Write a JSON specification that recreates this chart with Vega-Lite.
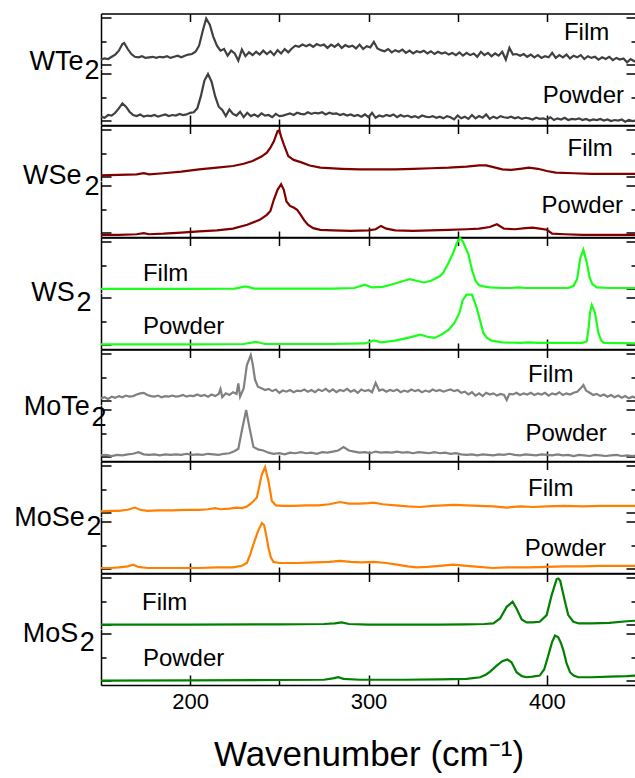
{
"$schema": "https://vega.github.io/schema/vega-lite/v6.json",
"padding": {"left": 13, "top": 12.5, "right": 0, "bottom": 0},
"background": "white",
"spacing": 0,
"bounds": "flush",
"config": {"view": {"stroke": null}, "axis": {"grid": false, "domainColor": "#000", "domainWidth": 1.5, "tickColor": "#000", "tickWidth": 1.5, "titleFont": "Liberation Sans", "labelFont": "Liberation Sans", "titleFontWeight": "normal", "titleColor": "#000", "labelColor": "#000"}},
"datasets": {
"labels": [
{"m":"WTe2","s":"Film","x":435,"y":0.64},{"m":"WTe2","s":"Powder","x":443.3,"y":0.53},
{"m":"WSe2","s":"Film","x":437,"y":0.57},{"m":"WSe2","s":"Powder","x":442.7,"y":0.56},
{"m":"WS2","s":"Film","x":173.5,"y":0.34},{"m":"WS2","s":"Powder","x":173.5,"y":0.40},
{"m":"MoTe2","s":"Film","x":414.9,"y":0.54},{"m":"MoTe2","s":"Powder","x":433.6,"y":0.49},
{"m":"MoSe2","s":"Film","x":414.9,"y":0.51},{"m":"MoSe2","s":"Powder","x":433.2,"y":0.43},
{"m":"MoS2","s":"Film","x":173,"y":0.46},{"m":"MoS2","s":"Powder","x":173.5,"y":0.46}],
"WTe2_Film": [{"x":150,"y":0.17},{"x":152,"y":0.19},{"x":154,"y":0.18},{"x":156,"y":0.22},{"x":158,"y":0.26},{"x":160,"y":0.33},{"x":162,"y":0.45},{"x":163,"y":0.47},{"x":165,"y":0.36},{"x":167,"y":0.27},{"x":169,"y":0.22},{"x":171,"y":0.21},{"x":173,"y":0.23},{"x":175,"y":0.20},{"x":177,"y":0.21},{"x":179,"y":0.22},{"x":181,"y":0.20},{"x":183,"y":0.22},{"x":185,"y":0.21},{"x":187,"y":0.23},{"x":189,"y":0.20},{"x":191,"y":0.22},{"x":193,"y":0.24},{"x":195,"y":0.21},{"x":197,"y":0.24},{"x":199,"y":0.26},{"x":201,"y":0.27},{"x":203,"y":0.31},{"x":205,"y":0.42},{"x":207,"y":0.68},{"x":209,"y":0.91},{"x":211,"y":0.80},{"x":213,"y":0.58},{"x":215,"y":0.42},{"x":217,"y":0.33},{"x":219,"y":0.36},{"x":221,"y":0.24},{"x":223,"y":0.33},{"x":225,"y":0.28},{"x":227,"y":0.15},{"x":229,"y":0.35},{"x":231,"y":0.23},{"x":233,"y":0.30},{"x":235,"y":0.25},{"x":237,"y":0.31},{"x":239,"y":0.26},{"x":241,"y":0.33},{"x":243,"y":0.27},{"x":245,"y":0.32},{"x":247,"y":0.25},{"x":249,"y":0.34},{"x":251,"y":0.28},{"x":253,"y":0.36},{"x":255,"y":0.30},{"x":257,"y":0.37},{"x":259,"y":0.42},{"x":261,"y":0.40},{"x":263,"y":0.44},{"x":265,"y":0.41},{"x":267,"y":0.44},{"x":269,"y":0.40},{"x":271,"y":0.45},{"x":273,"y":0.42},{"x":275,"y":0.44},{"x":277,"y":0.38},{"x":279,"y":0.44},{"x":281,"y":0.40},{"x":283,"y":0.45},{"x":285,"y":0.38},{"x":287,"y":0.43},{"x":289,"y":0.40},{"x":291,"y":0.42},{"x":293,"y":0.37},{"x":295,"y":0.44},{"x":297,"y":0.36},{"x":299,"y":0.41},{"x":301,"y":0.39},{"x":303,"y":0.49},{"x":305,"y":0.37},{"x":307,"y":0.34},{"x":309,"y":0.32},{"x":311,"y":0.36},{"x":313,"y":0.30},{"x":315,"y":0.34},{"x":317,"y":0.31},{"x":319,"y":0.35},{"x":321,"y":0.29},{"x":323,"y":0.33},{"x":325,"y":0.28},{"x":327,"y":0.32},{"x":329,"y":0.30},{"x":331,"y":0.33},{"x":333,"y":0.28},{"x":335,"y":0.32},{"x":337,"y":0.27},{"x":339,"y":0.31},{"x":341,"y":0.28},{"x":343,"y":0.30},{"x":345,"y":0.26},{"x":347,"y":0.29},{"x":349,"y":0.25},{"x":351,"y":0.30},{"x":353,"y":0.24},{"x":355,"y":0.29},{"x":357,"y":0.25},{"x":359,"y":0.28},{"x":361,"y":0.22},{"x":363,"y":0.31},{"x":365,"y":0.25},{"x":367,"y":0.29},{"x":369,"y":0.23},{"x":371,"y":0.28},{"x":373,"y":0.24},{"x":375,"y":0.31},{"x":377,"y":0.17},{"x":379,"y":0.38},{"x":381,"y":0.26},{"x":383,"y":0.27},{"x":385,"y":0.24},{"x":387,"y":0.27},{"x":389,"y":0.22},{"x":391,"y":0.26},{"x":393,"y":0.21},{"x":395,"y":0.25},{"x":397,"y":0.20},{"x":399,"y":0.23},{"x":401,"y":0.21},{"x":403,"y":0.29},{"x":405,"y":0.20},{"x":407,"y":0.25},{"x":409,"y":0.21},{"x":411,"y":0.26},{"x":413,"y":0.19},{"x":415,"y":0.24},{"x":417,"y":0.21},{"x":419,"y":0.25},{"x":421,"y":0.18},{"x":423,"y":0.23},{"x":425,"y":0.20},{"x":427,"y":0.22},{"x":429,"y":0.17},{"x":431,"y":0.21},{"x":433,"y":0.18},{"x":435,"y":0.22},{"x":437,"y":0.16},{"x":439,"y":0.20},{"x":441,"y":0.17},{"x":443,"y":0.19},{"x":445,"y":0.12},{"x":447,"y":0.18},{"x":449,"y":0.14},{"x":450,"y":0.15}],
"WTe2_Powder": [{"x":150,"y":0.15},{"x":152,"y":0.13},{"x":154,"y":0.18},{"x":156,"y":0.17},{"x":158,"y":0.22},{"x":160,"y":0.30},{"x":162,"y":0.39},{"x":164,"y":0.33},{"x":166,"y":0.24},{"x":168,"y":0.18},{"x":170,"y":0.16},{"x":172,"y":0.19},{"x":174,"y":0.15},{"x":176,"y":0.17},{"x":178,"y":0.16},{"x":180,"y":0.18},{"x":182,"y":0.15},{"x":184,"y":0.17},{"x":186,"y":0.19},{"x":188,"y":0.16},{"x":190,"y":0.18},{"x":192,"y":0.17},{"x":194,"y":0.20},{"x":196,"y":0.18},{"x":198,"y":0.19},{"x":200,"y":0.22},{"x":202,"y":0.23},{"x":204,"y":0.30},{"x":206,"y":0.52},{"x":208,"y":0.80},{"x":210,"y":0.92},{"x":212,"y":0.78},{"x":214,"y":0.52},{"x":216,"y":0.33},{"x":218,"y":0.27},{"x":220,"y":0.16},{"x":222,"y":0.28},{"x":224,"y":0.20},{"x":226,"y":0.17},{"x":228,"y":0.24},{"x":230,"y":0.14},{"x":232,"y":0.22},{"x":234,"y":0.16},{"x":236,"y":0.19},{"x":238,"y":0.15},{"x":240,"y":0.21},{"x":242,"y":0.17},{"x":244,"y":0.18},{"x":246,"y":0.14},{"x":248,"y":0.20},{"x":250,"y":0.16},{"x":252,"y":0.17},{"x":254,"y":0.19},{"x":256,"y":0.21},{"x":258,"y":0.18},{"x":260,"y":0.22},{"x":262,"y":0.20},{"x":264,"y":0.19},{"x":266,"y":0.23},{"x":268,"y":0.20},{"x":270,"y":0.22},{"x":272,"y":0.21},{"x":274,"y":0.23},{"x":276,"y":0.19},{"x":278,"y":0.22},{"x":280,"y":0.20},{"x":282,"y":0.21},{"x":284,"y":0.18},{"x":286,"y":0.20},{"x":288,"y":0.17},{"x":290,"y":0.19},{"x":292,"y":0.16},{"x":294,"y":0.18},{"x":296,"y":0.15},{"x":298,"y":0.19},{"x":300,"y":0.14},{"x":302,"y":0.22},{"x":304,"y":0.13},{"x":306,"y":0.17},{"x":308,"y":0.15},{"x":310,"y":0.18},{"x":312,"y":0.16},{"x":314,"y":0.19},{"x":316,"y":0.14},{"x":318,"y":0.18},{"x":320,"y":0.15},{"x":322,"y":0.17},{"x":324,"y":0.14},{"x":326,"y":0.16},{"x":328,"y":0.13},{"x":330,"y":0.17},{"x":332,"y":0.15},{"x":334,"y":0.14},{"x":336,"y":0.16},{"x":338,"y":0.13},{"x":340,"y":0.15},{"x":342,"y":0.12},{"x":344,"y":0.16},{"x":346,"y":0.14},{"x":348,"y":0.10},{"x":350,"y":0.17},{"x":352,"y":0.12},{"x":354,"y":0.15},{"x":356,"y":0.11},{"x":358,"y":0.18},{"x":360,"y":0.12},{"x":362,"y":0.16},{"x":364,"y":0.13},{"x":366,"y":0.19},{"x":368,"y":0.11},{"x":370,"y":0.15},{"x":372,"y":0.12},{"x":374,"y":0.16},{"x":376,"y":0.14},{"x":378,"y":0.13},{"x":380,"y":0.15},{"x":382,"y":0.12},{"x":384,"y":0.14},{"x":386,"y":0.11},{"x":388,"y":0.13},{"x":390,"y":0.12},{"x":392,"y":0.10},{"x":394,"y":0.13},{"x":396,"y":0.11},{"x":398,"y":0.12},{"x":400,"y":0.10},{"x":402,"y":0.14},{"x":404,"y":0.09},{"x":406,"y":0.12},{"x":408,"y":0.10},{"x":410,"y":0.13},{"x":412,"y":0.09},{"x":414,"y":0.11},{"x":416,"y":0.10},{"x":418,"y":0.12},{"x":420,"y":0.09},{"x":422,"y":0.11},{"x":424,"y":0.08},{"x":426,"y":0.10},{"x":428,"y":0.09},{"x":430,"y":0.11},{"x":432,"y":0.08},{"x":434,"y":0.10},{"x":436,"y":0.07},{"x":438,"y":0.09},{"x":440,"y":0.08},{"x":442,"y":0.10},{"x":444,"y":0.06},{"x":446,"y":0.09},{"x":448,"y":0.07},{"x":450,"y":0.08}],
"WSe2_Film": [{"x":150,"y":0.10},{"x":160,"y":0.11},{"x":170,"y":0.12},{"x":174,"y":0.14},{"x":177,"y":0.12},{"x":185,"y":0.14},{"x":195,"y":0.17},{"x":205,"y":0.21},{"x":215,"y":0.24},{"x":224,"y":0.27},{"x":230,"y":0.31},{"x":235,"y":0.36},{"x":240,"y":0.44},{"x":243,"y":0.51},{"x":245,"y":0.60},{"x":247,"y":0.72},{"x":249,"y":0.90},{"x":250,"y":0.91},{"x":251,"y":0.80},{"x":252.5,"y":0.66},{"x":255,"y":0.45},{"x":258,"y":0.38},{"x":262,"y":0.34},{"x":267,"y":0.28},{"x":273,"y":0.24},{"x":285,"y":0.22},{"x":295,"y":0.21},{"x":305,"y":0.21},{"x":315,"y":0.21},{"x":325,"y":0.22},{"x":335,"y":0.23},{"x":345,"y":0.24},{"x":355,"y":0.26},{"x":362,"y":0.28},{"x":366,"y":0.28},{"x":370,"y":0.25},{"x":375,"y":0.21},{"x":380,"y":0.20},{"x":385,"y":0.22},{"x":390,"y":0.24},{"x":395,"y":0.22},{"x":400,"y":0.18},{"x":405,"y":0.15},{"x":415,"y":0.14},{"x":425,"y":0.13},{"x":435,"y":0.13},{"x":450,"y":0.13}],
"WSe2_Powder": [{"x":150,"y":0.04},{"x":160,"y":0.04},{"x":170,"y":0.05},{"x":174,"y":0.07},{"x":177,"y":0.05},{"x":185,"y":0.06},{"x":195,"y":0.08},{"x":205,"y":0.10},{"x":215,"y":0.12},{"x":224,"y":0.15},{"x":232,"y":0.22},{"x":239,"y":0.31},{"x":243,"y":0.40},{"x":245,"y":0.47},{"x":247,"y":0.68},{"x":249,"y":0.85},{"x":251,"y":0.95},{"x":252.5,"y":0.85},{"x":254,"y":0.64},{"x":256,"y":0.56},{"x":258,"y":0.53},{"x":260,"y":0.49},{"x":262,"y":0.40},{"x":264,"y":0.30},{"x":266,"y":0.22},{"x":269,"y":0.16},{"x":273,"y":0.13},{"x":280,"y":0.12},{"x":290,"y":0.11},{"x":300,"y":0.12},{"x":304,"y":0.14},{"x":307,"y":0.20},{"x":310,"y":0.15},{"x":315,"y":0.12},{"x":325,"y":0.11},{"x":335,"y":0.12},{"x":345,"y":0.13},{"x":355,"y":0.14},{"x":362,"y":0.15},{"x":368,"y":0.18},{"x":372,"y":0.23},{"x":376,"y":0.15},{"x":382,"y":0.14},{"x":388,"y":0.16},{"x":392,"y":0.17},{"x":396,"y":0.15},{"x":400,"y":0.13},{"x":403,"y":0.06},{"x":410,"y":0.05},{"x":420,"y":0.04},{"x":435,"y":0.04},{"x":450,"y":0.04}],
"WS2_Film": [{"x":150,"y":0.074},{"x":200,"y":0.075},{"x":225,"y":0.08},{"x":231,"y":0.12},{"x":236,"y":0.08},{"x":260,"y":0.08},{"x":280,"y":0.08},{"x":292,"y":0.09},{"x":298,"y":0.15},{"x":302,"y":0.10},{"x":308,"y":0.11},{"x":315,"y":0.17},{"x":320,"y":0.22},{"x":323,"y":0.25},{"x":327,"y":0.22},{"x":331,"y":0.19},{"x":335,"y":0.22},{"x":340,"y":0.30},{"x":342,"y":0.37},{"x":345,"y":0.55},{"x":347.6,"y":0.73},{"x":349.5,"y":0.90},{"x":351.3,"y":0.99},{"x":353,"y":0.92},{"x":356,"y":0.70},{"x":358,"y":0.42},{"x":360,"y":0.22},{"x":362,"y":0.14},{"x":364.4,"y":0.12},{"x":368,"y":0.10},{"x":375,"y":0.09},{"x":380,"y":0.09},{"x":384,"y":0.10},{"x":388,"y":0.09},{"x":400,"y":0.09},{"x":412,"y":0.09},{"x":415,"y":0.13},{"x":417,"y":0.25},{"x":418.7,"y":0.62},{"x":420.5,"y":0.78},{"x":422.4,"y":0.55},{"x":424,"y":0.28},{"x":425.5,"y":0.16},{"x":428,"y":0.10},{"x":435,"y":0.09},{"x":450,"y":0.09}],
"WS2_Powder": [{"x":150,"y":0.083},{"x":200,"y":0.085},{"x":230,"y":0.09},{"x":237,"y":0.13},{"x":242,"y":0.09},{"x":280,"y":0.09},{"x":298,"y":0.10},{"x":303,"y":0.155},{"x":307,"y":0.12},{"x":315,"y":0.15},{"x":322,"y":0.20},{"x":329,"y":0.26},{"x":333,"y":0.22},{"x":337,"y":0.20},{"x":341,"y":0.26},{"x":345,"y":0.35},{"x":348,"y":0.46},{"x":351,"y":0.65},{"x":352.8,"y":0.88},{"x":355,"y":0.98},{"x":358,"y":0.98},{"x":360.7,"y":0.74},{"x":362.5,"y":0.52},{"x":364.4,"y":0.29},{"x":366.5,"y":0.20},{"x":369,"y":0.15},{"x":375,"y":0.12},{"x":385,"y":0.11},{"x":390,"y":0.12},{"x":395,"y":0.11},{"x":410,"y":0.11},{"x":420,"y":0.11},{"x":422.4,"y":0.14},{"x":423.5,"y":0.40},{"x":424.2,"y":0.65},{"x":425.2,"y":0.79},{"x":427,"y":0.65},{"x":428.9,"y":0.29},{"x":430.5,"y":0.15},{"x":432,"y":0.11},{"x":450,"y":0.10}],
"MoTe2_Film": [{"x":150,"y":0.12},{"x":152,"y":0.14},{"x":154,"y":0.11},{"x":156,"y":0.15},{"x":158,"y":0.13},{"x":160,"y":0.16},{"x":162,"y":0.14},{"x":164,"y":0.17},{"x":166,"y":0.15},{"x":168,"y":0.16},{"x":170,"y":0.19},{"x":172,"y":0.21},{"x":174,"y":0.22},{"x":176,"y":0.18},{"x":178,"y":0.16},{"x":180,"y":0.15},{"x":182,"y":0.17},{"x":184,"y":0.14},{"x":186,"y":0.16},{"x":188,"y":0.15},{"x":190,"y":0.17},{"x":192,"y":0.15},{"x":194,"y":0.16},{"x":196,"y":0.18},{"x":198,"y":0.15},{"x":200,"y":0.17},{"x":202,"y":0.16},{"x":204,"y":0.19},{"x":206,"y":0.16},{"x":208,"y":0.18},{"x":210,"y":0.15},{"x":212,"y":0.19},{"x":214,"y":0.16},{"x":216,"y":0.20},{"x":217,"y":0.29},{"x":218,"y":0.14},{"x":220,"y":0.21},{"x":222,"y":0.18},{"x":224,"y":0.23},{"x":226,"y":0.20},{"x":227,"y":0.39},{"x":228,"y":0.15},{"x":230,"y":0.30},{"x":231.8,"y":0.72},{"x":234,"y":0.90},{"x":235,"y":0.75},{"x":236.4,"y":0.45},{"x":238,"y":0.33},{"x":240,"y":0.30},{"x":242,"y":0.27},{"x":244,"y":0.29},{"x":246,"y":0.25},{"x":248,"y":0.28},{"x":250,"y":0.22},{"x":252,"y":0.26},{"x":254,"y":0.24},{"x":256,"y":0.27},{"x":258,"y":0.23},{"x":260,"y":0.26},{"x":262,"y":0.25},{"x":264,"y":0.28},{"x":266,"y":0.24},{"x":268,"y":0.27},{"x":270,"y":0.23},{"x":272,"y":0.28},{"x":274,"y":0.25},{"x":276,"y":0.29},{"x":278,"y":0.24},{"x":280,"y":0.28},{"x":282,"y":0.23},{"x":284,"y":0.27},{"x":286,"y":0.25},{"x":288,"y":0.29},{"x":290,"y":0.24},{"x":292,"y":0.27},{"x":294,"y":0.22},{"x":296,"y":0.28},{"x":298,"y":0.25},{"x":300,"y":0.27},{"x":302,"y":0.23},{"x":304,"y":0.40},{"x":306,"y":0.26},{"x":308,"y":0.28},{"x":310,"y":0.24},{"x":312,"y":0.27},{"x":314,"y":0.25},{"x":316,"y":0.28},{"x":318,"y":0.23},{"x":320,"y":0.26},{"x":322,"y":0.24},{"x":324,"y":0.28},{"x":326,"y":0.25},{"x":328,"y":0.27},{"x":330,"y":0.23},{"x":332,"y":0.26},{"x":334,"y":0.24},{"x":336,"y":0.28},{"x":338,"y":0.25},{"x":340,"y":0.27},{"x":342,"y":0.24},{"x":344,"y":0.26},{"x":346,"y":0.28},{"x":348,"y":0.25},{"x":350,"y":0.27},{"x":352,"y":0.22},{"x":354,"y":0.24},{"x":356,"y":0.19},{"x":358,"y":0.23},{"x":360,"y":0.17},{"x":362,"y":0.21},{"x":364,"y":0.16},{"x":366,"y":0.22},{"x":368,"y":0.19},{"x":370,"y":0.21},{"x":372,"y":0.17},{"x":374,"y":0.20},{"x":376,"y":0.18},{"x":377.5,"y":0.09},{"x":379,"y":0.20},{"x":381,"y":0.19},{"x":383,"y":0.22},{"x":385,"y":0.18},{"x":387,"y":0.21},{"x":389,"y":0.19},{"x":391,"y":0.22},{"x":393,"y":0.18},{"x":395,"y":0.21},{"x":397,"y":0.19},{"x":399,"y":0.22},{"x":401,"y":0.17},{"x":403,"y":0.21},{"x":405,"y":0.19},{"x":407,"y":0.23},{"x":409,"y":0.18},{"x":411,"y":0.21},{"x":413,"y":0.19},{"x":415,"y":0.22},{"x":417,"y":0.24},{"x":419,"y":0.30},{"x":420.5,"y":0.36},{"x":422,"y":0.26},{"x":424,"y":0.22},{"x":426,"y":0.18},{"x":428,"y":0.20},{"x":430,"y":0.16},{"x":432,"y":0.19},{"x":434,"y":0.15},{"x":436,"y":0.18},{"x":438,"y":0.14},{"x":440,"y":0.17},{"x":442,"y":0.13},{"x":444,"y":0.16},{"x":446,"y":0.12},{"x":448,"y":0.15},{"x":450,"y":0.13}],
"MoTe2_Powder": [{"x":150,"y":0.10},{"x":153,"y":0.11},{"x":156,"y":0.09},{"x":159,"y":0.11},{"x":162,"y":0.10},{"x":165,"y":0.12},{"x":168,"y":0.13},{"x":171,"y":0.16},{"x":174,"y":0.12},{"x":177,"y":0.11},{"x":180,"y":0.12},{"x":183,"y":0.10},{"x":186,"y":0.12},{"x":189,"y":0.11},{"x":192,"y":0.12},{"x":195,"y":0.11},{"x":198,"y":0.13},{"x":201,"y":0.11},{"x":204,"y":0.12},{"x":207,"y":0.11},{"x":210,"y":0.13},{"x":213,"y":0.12},{"x":216,"y":0.11},{"x":219,"y":0.13},{"x":222,"y":0.14},{"x":225,"y":0.18},{"x":227,"y":0.22},{"x":229,"y":0.55},{"x":231.4,"y":0.92},{"x":233.2,"y":0.61},{"x":235.5,"y":0.25},{"x":238,"y":0.21},{"x":241,"y":0.19},{"x":244,"y":0.15},{"x":246.7,"y":0.13},{"x":250,"y":0.14},{"x":253,"y":0.12},{"x":256,"y":0.15},{"x":259,"y":0.14},{"x":262,"y":0.16},{"x":265,"y":0.14},{"x":268,"y":0.15},{"x":271,"y":0.13},{"x":274,"y":0.16},{"x":277,"y":0.15},{"x":280,"y":0.17},{"x":283,"y":0.19},{"x":286,"y":0.25},{"x":289,"y":0.19},{"x":292,"y":0.17},{"x":295,"y":0.15},{"x":298,"y":0.16},{"x":301,"y":0.14},{"x":304,"y":0.17},{"x":307,"y":0.15},{"x":310,"y":0.16},{"x":313,"y":0.15},{"x":316,"y":0.17},{"x":319,"y":0.15},{"x":322,"y":0.16},{"x":325,"y":0.14},{"x":328,"y":0.16},{"x":331,"y":0.15},{"x":334,"y":0.14},{"x":337,"y":0.16},{"x":340,"y":0.14},{"x":343,"y":0.15},{"x":346,"y":0.13},{"x":349,"y":0.14},{"x":352,"y":0.12},{"x":355,"y":0.11},{"x":358,"y":0.12},{"x":361,"y":0.10},{"x":364,"y":0.12},{"x":367,"y":0.11},{"x":370,"y":0.10},{"x":373,"y":0.12},{"x":376,"y":0.11},{"x":379,"y":0.13},{"x":382,"y":0.11},{"x":385,"y":0.10},{"x":388,"y":0.12},{"x":391,"y":0.11},{"x":394,"y":0.10},{"x":397,"y":0.12},{"x":400,"y":0.11},{"x":403,"y":0.10},{"x":406,"y":0.12},{"x":409,"y":0.10},{"x":412,"y":0.11},{"x":415,"y":0.09},{"x":418,"y":0.11},{"x":421,"y":0.10},{"x":424,"y":0.09},{"x":427,"y":0.11},{"x":430,"y":0.10},{"x":433,"y":0.09},{"x":436,"y":0.10},{"x":439,"y":0.11},{"x":442,"y":0.09},{"x":445,"y":0.10},{"x":448,"y":0.09},{"x":450,"y":0.10}],
"MoSe2_Film": [{"x":150,"y":0.10},{"x":155,"y":0.11},{"x":160,"y":0.11},{"x":165,"y":0.13},{"x":169,"y":0.17},{"x":172,"y":0.13},{"x":176,"y":0.11},{"x":182,"y":0.12},{"x":190,"y":0.12},{"x":198,"y":0.13},{"x":205,"y":0.13},{"x":210,"y":0.14},{"x":214,"y":0.16},{"x":217,"y":0.14},{"x":222,"y":0.15},{"x":226,"y":0.17},{"x":229,"y":0.16},{"x":231.8,"y":0.19},{"x":234,"y":0.24},{"x":237.4,"y":0.35},{"x":240.2,"y":0.77},{"x":242,"y":0.90},{"x":243.9,"y":0.65},{"x":245.8,"y":0.29},{"x":248,"y":0.21},{"x":252,"y":0.20},{"x":258,"y":0.20},{"x":265,"y":0.21},{"x":272,"y":0.21},{"x":278,"y":0.23},{"x":284,"y":0.27},{"x":289,"y":0.24},{"x":295,"y":0.24},{"x":300,"y":0.25},{"x":303,"y":0.26},{"x":308,"y":0.23},{"x":315,"y":0.21},{"x":322,"y":0.19},{"x":329,"y":0.18},{"x":336,"y":0.20},{"x":342,"y":0.21},{"x":348,"y":0.22},{"x":355,"y":0.21},{"x":362,"y":0.20},{"x":370,"y":0.19},{"x":377.5,"y":0.17},{"x":385,"y":0.19},{"x":392,"y":0.18},{"x":400,"y":0.19},{"x":410,"y":0.20},{"x":420,"y":0.19},{"x":430,"y":0.20},{"x":440,"y":0.20},{"x":450,"y":0.20}],
"MoSe2_Powder": [{"x":150,"y":0.09},{"x":155,"y":0.09},{"x":160,"y":0.10},{"x":165,"y":0.12},{"x":168,"y":0.15},{"x":171,"y":0.11},{"x":176,"y":0.09},{"x":185,"y":0.09},{"x":195,"y":0.09},{"x":205,"y":0.09},{"x":215,"y":0.10},{"x":224,"y":0.10},{"x":229,"y":0.13},{"x":231.8,"y":0.18},{"x":233.5,"y":0.32},{"x":235.4,"y":0.51},{"x":238,"y":0.75},{"x":240.2,"y":0.90},{"x":241.5,"y":0.86},{"x":243,"y":0.62},{"x":243.9,"y":0.45},{"x":245.3,"y":0.28},{"x":246.7,"y":0.20},{"x":250,"y":0.18},{"x":260,"y":0.18},{"x":270,"y":0.19},{"x":278,"y":0.20},{"x":284,"y":0.22},{"x":290,"y":0.20},{"x":296,"y":0.19},{"x":303,"y":0.20},{"x":310,"y":0.18},{"x":316,"y":0.15},{"x":322,"y":0.12},{"x":327,"y":0.10},{"x":333,"y":0.11},{"x":340,"y":0.13},{"x":347.6,"y":0.15},{"x":355,"y":0.13},{"x":362,"y":0.11},{"x":369.5,"y":0.09},{"x":378,"y":0.10},{"x":390,"y":0.10},{"x":400,"y":0.11},{"x":410,"y":0.12},{"x":420,"y":0.12},{"x":430,"y":0.13},{"x":440,"y":0.13},{"x":450,"y":0.13}],
"MoS2_Film": [{"x":150,"y":0.08},{"x":200,"y":0.08},{"x":250,"y":0.085},{"x":275,"y":0.09},{"x":281,"y":0.10},{"x":285,"y":0.12},{"x":289,"y":0.09},{"x":300,"y":0.08},{"x":320,"y":0.08},{"x":340,"y":0.08},{"x":355,"y":0.085},{"x":365,"y":0.09},{"x":370,"y":0.10},{"x":373.8,"y":0.19},{"x":377.5,"y":0.40},{"x":380.8,"y":0.49},{"x":383,"y":0.37},{"x":385.9,"y":0.17},{"x":388.7,"y":0.12},{"x":392,"y":0.12},{"x":396,"y":0.13},{"x":399.9,"y":0.25},{"x":402.7,"y":0.61},{"x":405.5,"y":0.90},{"x":406.5,"y":0.91},{"x":407.5,"y":0.87},{"x":410.2,"y":0.49},{"x":412,"y":0.25},{"x":414.9,"y":0.13},{"x":418,"y":0.10},{"x":425,"y":0.10},{"x":435,"y":0.11},{"x":445,"y":0.14},{"x":450,"y":0.15}],
"MoS2_Powder": [{"x":150,"y":0.08},{"x":200,"y":0.085},{"x":250,"y":0.09},{"x":275,"y":0.095},{"x":280,"y":0.12},{"x":283,"y":0.14},{"x":286,"y":0.11},{"x":295,"y":0.095},{"x":320,"y":0.095},{"x":340,"y":0.10},{"x":355,"y":0.11},{"x":362.6,"y":0.14},{"x":366,"y":0.19},{"x":368.2,"y":0.24},{"x":371.9,"y":0.35},{"x":375,"y":0.43},{"x":377.9,"y":0.46},{"x":380.2,"y":0.41},{"x":383,"y":0.23},{"x":386,"y":0.16},{"x":388.7,"y":0.14},{"x":392,"y":0.15},{"x":396,"y":0.17},{"x":398.5,"y":0.28},{"x":400.8,"y":0.53},{"x":403,"y":0.78},{"x":404.6,"y":0.89},{"x":406.4,"y":0.86},{"x":408,"y":0.75},{"x":409.3,"y":0.62},{"x":411,"y":0.40},{"x":413,"y":0.23},{"x":415,"y":0.17},{"x":417.7,"y":0.14},{"x":425,"y":0.14},{"x":435,"y":0.15},{"x":445,"y":0.16},{"x":450,"y":0.17}]
},
"vconcat": [
{"width":535,"height":55.5,"resolve":{"axis":{"y":"independent"}},"layer":[
 {"data":{"name":"WTe2_Film"},"mark":{"type":"line","color":"#404040","strokeWidth":2.2},"encoding":{"x":{"field":"x","type":"quantitative","scale":{"domain":[150,450],"nice":false},"axis":{"orient":"top","values":[200,250,300,350,400],"tickSize":-8,"labels":false,"title":null}},"y":{"field":"y","type":"quantitative","scale":{"domain":[0,1],"nice":false},"axis":{"orient":"left","values":[0.08,0.5,0.92],"tickSize":{"condition":{"test":"datum.value === 0.5","value":-5},"value":-10},"labels":false,"title":"WTe","titleAngle":0,"titleAlign":"right","titleBaseline":"alphabetic","titleX":-18,"titleY":56,"titleFontSize":27}}}},
 {"data":{"name":"WTe2_Film"},"mark":{"type":"line","strokeOpacity":0},"encoding":{"x":{"field":"x","type":"quantitative"},"y":{"field":"y","type":"quantitative","axis":{"orient":"right","values":[0.08,0.5,0.92],"tickSize":{"condition":{"test":"datum.value === 0.5","value":-5},"value":-10},"labels":false,"title":null}}}},
 {"data":{"name":"labels"},"transform":[{"filter":"datum.m == 'WTe2' && datum.s == 'Film'"}],"mark":{"type":"text","align":"right","baseline":"middle","fontSize":24,"font":"Liberation Sans","color":"#000"},"encoding":{"x":{"field":"x","type":"quantitative"},"y":{"field":"y","type":"quantitative","axis":null},"text":{"field":"s"}}}
]},
{"width":535,"height":55.5,"resolve":{"axis":{"y":"independent"}},"layer":[
 {"data":{"name":"WTe2_Powder"},"mark":{"type":"line","color":"#404040","strokeWidth":2.2},"encoding":{"x":{"field":"x","type":"quantitative","scale":{"domain":[150,450],"nice":false},"axis":{"orient":"bottom","values":[200,250,300,350,400],"tickSize":{"condition":{"test":"datum.value % 100 === 0","value":-10},"value":-6},"labels":false,"title":null}},"y":{"field":"y","type":"quantitative","scale":{"domain":[0,1],"nice":false},"axis":{"orient":"left","values":[0.08,0.5,0.92],"tickSize":{"condition":{"test":"datum.value === 0.5","value":-5},"value":-10},"labels":false,"title":"2","titleAngle":0,"titleAlign":"right","titleBaseline":"alphabetic","titleX":-2,"titleY":9.2,"titleFontSize":27}}}},
 {"data":{"name":"WTe2_Powder"},"mark":{"type":"line","strokeOpacity":0},"encoding":{"x":{"field":"x","type":"quantitative"},"y":{"field":"y","type":"quantitative","axis":{"orient":"right","values":[0.08,0.5,0.92],"tickSize":{"condition":{"test":"datum.value === 0.5","value":-5},"value":-10},"labels":false,"title":null}}}},
 {"data":{"name":"labels"},"transform":[{"filter":"datum.m == 'WTe2' && datum.s == 'Powder'"}],"mark":{"type":"text","align":"right","baseline":"middle","fontSize":24,"font":"Liberation Sans","color":"#000"},"encoding":{"x":{"field":"x","type":"quantitative"},"y":{"field":"y","type":"quantitative","axis":null},"text":{"field":"s"}}}
]},
{"width":535,"height":55.5,"resolve":{"axis":{"y":"independent"}},"layer":[
 {"data":{"name":"WSe2_Film"},"mark":{"type":"line","color":"#800000","strokeWidth":2.2},"encoding":{"x":{"field":"x","type":"quantitative","scale":{"domain":[150,450],"nice":false},"axis":{"orient":"top","values":[200,250,300,350,400],"tickSize":-8,"labels":false,"title":null}},"y":{"field":"y","type":"quantitative","scale":{"domain":[0,1],"nice":false},"axis":{"orient":"left","values":[0.08,0.5,0.92],"tickSize":{"condition":{"test":"datum.value === 0.5","value":-5},"value":-10},"labels":false,"title":"WSe","titleAngle":0,"titleAlign":"right","titleBaseline":"alphabetic","titleX":-20,"titleY":57.7,"titleFontSize":27}}}},
 {"data":{"name":"WSe2_Film"},"mark":{"type":"line","strokeOpacity":0},"encoding":{"x":{"field":"x","type":"quantitative"},"y":{"field":"y","type":"quantitative","axis":{"orient":"right","values":[0.08,0.5,0.92],"tickSize":{"condition":{"test":"datum.value === 0.5","value":-5},"value":-10},"labels":false,"title":null}}}},
 {"data":{"name":"labels"},"transform":[{"filter":"datum.m == 'WSe2' && datum.s == 'Film'"}],"mark":{"type":"text","align":"right","baseline":"middle","fontSize":24,"font":"Liberation Sans","color":"#000"},"encoding":{"x":{"field":"x","type":"quantitative"},"y":{"field":"y","type":"quantitative","axis":null},"text":{"field":"s"}}}
]},
{"width":535,"height":55.5,"resolve":{"axis":{"y":"independent"}},"layer":[
 {"data":{"name":"WSe2_Powder"},"mark":{"type":"line","color":"#800000","strokeWidth":2.2},"encoding":{"x":{"field":"x","type":"quantitative","scale":{"domain":[150,450],"nice":false},"axis":{"orient":"bottom","values":[200,250,300,350,400],"tickSize":{"condition":{"test":"datum.value % 100 === 0","value":-10},"value":-6},"labels":false,"title":null}},"y":{"field":"y","type":"quantitative","scale":{"domain":[0,1],"nice":false},"axis":{"orient":"left","values":[0.08,0.5,0.92],"tickSize":{"condition":{"test":"datum.value === 0.5","value":-5},"value":-10},"labels":false,"title":"2","titleAngle":0,"titleAlign":"right","titleBaseline":"alphabetic","titleX":-2,"titleY":13.2,"titleFontSize":27}}}},
 {"data":{"name":"WSe2_Powder"},"mark":{"type":"line","strokeOpacity":0},"encoding":{"x":{"field":"x","type":"quantitative"},"y":{"field":"y","type":"quantitative","axis":{"orient":"right","values":[0.08,0.5,0.92],"tickSize":{"condition":{"test":"datum.value === 0.5","value":-5},"value":-10},"labels":false,"title":null}}}},
 {"data":{"name":"labels"},"transform":[{"filter":"datum.m == 'WSe2' && datum.s == 'Powder'"}],"mark":{"type":"text","align":"right","baseline":"middle","fontSize":24,"font":"Liberation Sans","color":"#000"},"encoding":{"x":{"field":"x","type":"quantitative"},"y":{"field":"y","type":"quantitative","axis":null},"text":{"field":"s"}}}
]},
{"width":535,"height":55.5,"resolve":{"axis":{"y":"independent"}},"layer":[
 {"data":{"name":"WS2_Film"},"mark":{"type":"line","color":"#1aff1a","strokeWidth":2.2},"encoding":{"x":{"field":"x","type":"quantitative","scale":{"domain":[150,450],"nice":false},"axis":{"orient":"top","values":[200,250,300,350,400],"tickSize":-8,"labels":false,"title":null}},"y":{"field":"y","type":"quantitative","scale":{"domain":[0,1],"nice":false},"axis":{"orient":"left","values":[0.08,0.5,0.92],"tickSize":{"condition":{"test":"datum.value === 0.5","value":-5},"value":-10},"labels":false,"title":"WS","titleAngle":0,"titleAlign":"right","titleBaseline":"alphabetic","titleX":-26.7,"titleY":63,"titleFontSize":27}}}},
 {"data":{"name":"WS2_Film"},"mark":{"type":"line","strokeOpacity":0},"encoding":{"x":{"field":"x","type":"quantitative"},"y":{"field":"y","type":"quantitative","axis":{"orient":"right","values":[0.08,0.5,0.92],"tickSize":{"condition":{"test":"datum.value === 0.5","value":-5},"value":-10},"labels":false,"title":null}}}},
 {"data":{"name":"labels"},"transform":[{"filter":"datum.m == 'WS2' && datum.s == 'Film'"}],"mark":{"type":"text","align":"left","baseline":"middle","fontSize":24,"font":"Liberation Sans","color":"#000"},"encoding":{"x":{"field":"x","type":"quantitative"},"y":{"field":"y","type":"quantitative","axis":null},"text":{"field":"s"}}}
]},
{"width":535,"height":55.5,"resolve":{"axis":{"y":"independent"}},"layer":[
 {"data":{"name":"WS2_Powder"},"mark":{"type":"line","color":"#1aff1a","strokeWidth":2.2},"encoding":{"x":{"field":"x","type":"quantitative","scale":{"domain":[150,450],"nice":false},"axis":{"orient":"bottom","values":[200,250,300,350,400],"tickSize":{"condition":{"test":"datum.value % 100 === 0","value":-10},"value":-6},"labels":false,"title":null}},"y":{"field":"y","type":"quantitative","scale":{"domain":[0,1],"nice":false},"axis":{"orient":"left","values":[0.08,0.5,0.92],"tickSize":{"condition":{"test":"datum.value === 0.5","value":-5},"value":-10},"labels":false,"title":"2","titleAngle":0,"titleAlign":"right","titleBaseline":"alphabetic","titleX":-10,"titleY":16.5,"titleFontSize":27}}}},
 {"data":{"name":"WS2_Powder"},"mark":{"type":"line","strokeOpacity":0},"encoding":{"x":{"field":"x","type":"quantitative"},"y":{"field":"y","type":"quantitative","axis":{"orient":"right","values":[0.08,0.5,0.92],"tickSize":{"condition":{"test":"datum.value === 0.5","value":-5},"value":-10},"labels":false,"title":null}}}},
 {"data":{"name":"labels"},"transform":[{"filter":"datum.m == 'WS2' && datum.s == 'Powder'"}],"mark":{"type":"text","align":"left","baseline":"middle","fontSize":24,"font":"Liberation Sans","color":"#000"},"encoding":{"x":{"field":"x","type":"quantitative"},"y":{"field":"y","type":"quantitative","axis":null},"text":{"field":"s"}}}
]},
{"width":535,"height":55.5,"resolve":{"axis":{"y":"independent"}},"layer":[
 {"data":{"name":"MoTe2_Film"},"mark":{"type":"line","color":"#808080","strokeWidth":2.2},"encoding":{"x":{"field":"x","type":"quantitative","scale":{"domain":[150,450],"nice":false},"axis":{"orient":"top","values":[200,250,300,350,400],"tickSize":-8,"labels":false,"title":null}},"y":{"field":"y","type":"quantitative","scale":{"domain":[0,1],"nice":false},"axis":{"orient":"left","values":[0.08,0.5,0.92],"tickSize":{"condition":{"test":"datum.value === 0.5","value":-5},"value":-10},"labels":false,"title":"MoTe","titleAngle":0,"titleAlign":"right","titleBaseline":"alphabetic","titleX":-11.7,"titleY":65.4,"titleFontSize":27}}}},
 {"data":{"name":"MoTe2_Film"},"mark":{"type":"line","strokeOpacity":0},"encoding":{"x":{"field":"x","type":"quantitative"},"y":{"field":"y","type":"quantitative","axis":{"orient":"right","values":[0.08,0.5,0.92],"tickSize":{"condition":{"test":"datum.value === 0.5","value":-5},"value":-10},"labels":false,"title":null}}}},
 {"data":{"name":"labels"},"transform":[{"filter":"datum.m == 'MoTe2' && datum.s == 'Film'"}],"mark":{"type":"text","align":"right","baseline":"middle","fontSize":24,"font":"Liberation Sans","color":"#000"},"encoding":{"x":{"field":"x","type":"quantitative"},"y":{"field":"y","type":"quantitative","axis":null},"text":{"field":"s"}}}
]},
{"width":535,"height":55.5,"resolve":{"axis":{"y":"independent"}},"layer":[
 {"data":{"name":"MoTe2_Powder"},"mark":{"type":"line","color":"#808080","strokeWidth":2.2},"encoding":{"x":{"field":"x","type":"quantitative","scale":{"domain":[150,450],"nice":false},"axis":{"orient":"bottom","values":[200,250,300,350,400],"tickSize":{"condition":{"test":"datum.value % 100 === 0","value":-10},"value":-6},"labels":false,"title":null}},"y":{"field":"y","type":"quantitative","scale":{"domain":[0,1],"nice":false},"axis":{"orient":"left","values":[0.08,0.5,0.92],"tickSize":{"condition":{"test":"datum.value === 0.5","value":-5},"value":-10},"labels":false,"title":"2","titleAngle":0,"titleAlign":"right","titleBaseline":"alphabetic","titleX":5,"titleY":19.9,"titleFontSize":27}}}},
 {"data":{"name":"MoTe2_Powder"},"mark":{"type":"line","strokeOpacity":0},"encoding":{"x":{"field":"x","type":"quantitative"},"y":{"field":"y","type":"quantitative","axis":{"orient":"right","values":[0.08,0.5,0.92],"tickSize":{"condition":{"test":"datum.value === 0.5","value":-5},"value":-10},"labels":false,"title":null}}}},
 {"data":{"name":"labels"},"transform":[{"filter":"datum.m == 'MoTe2' && datum.s == 'Powder'"}],"mark":{"type":"text","align":"right","baseline":"middle","fontSize":24,"font":"Liberation Sans","color":"#000"},"encoding":{"x":{"field":"x","type":"quantitative"},"y":{"field":"y","type":"quantitative","axis":null},"text":{"field":"s"}}}
]},
{"width":535,"height":55.5,"resolve":{"axis":{"y":"independent"}},"layer":[
 {"data":{"name":"MoSe2_Film"},"mark":{"type":"line","color":"#ff8000","strokeWidth":2.2},"encoding":{"x":{"field":"x","type":"quantitative","scale":{"domain":[150,450],"nice":false},"axis":{"orient":"top","values":[200,250,300,350,400],"tickSize":-8,"labels":false,"title":null}},"y":{"field":"y","type":"quantitative","scale":{"domain":[0,1],"nice":false},"axis":{"orient":"left","values":[0.08,0.5,0.92],"tickSize":{"condition":{"test":"datum.value === 0.5","value":-5},"value":-10},"labels":false,"title":"MoSe","titleAngle":0,"titleAlign":"right","titleBaseline":"alphabetic","titleX":-16.7,"titleY":64.4,"titleFontSize":27}}}},
 {"data":{"name":"MoSe2_Film"},"mark":{"type":"line","strokeOpacity":0},"encoding":{"x":{"field":"x","type":"quantitative"},"y":{"field":"y","type":"quantitative","axis":{"orient":"right","values":[0.08,0.5,0.92],"tickSize":{"condition":{"test":"datum.value === 0.5","value":-5},"value":-10},"labels":false,"title":null}}}},
 {"data":{"name":"labels"},"transform":[{"filter":"datum.m == 'MoSe2' && datum.s == 'Film'"}],"mark":{"type":"text","align":"right","baseline":"middle","fontSize":24,"font":"Liberation Sans","color":"#000"},"encoding":{"x":{"field":"x","type":"quantitative"},"y":{"field":"y","type":"quantitative","axis":null},"text":{"field":"s"}}}
]},
{"width":535,"height":55.5,"resolve":{"axis":{"y":"independent"}},"layer":[
 {"data":{"name":"MoSe2_Powder"},"mark":{"type":"line","color":"#ff8000","strokeWidth":2.2},"encoding":{"x":{"field":"x","type":"quantitative","scale":{"domain":[150,450],"nice":false},"axis":{"orient":"bottom","values":[200,250,300,350,400],"tickSize":{"condition":{"test":"datum.value % 100 === 0","value":-10},"value":-6},"labels":false,"title":null}},"y":{"field":"y","type":"quantitative","scale":{"domain":[0,1],"nice":false},"axis":{"orient":"left","values":[0.08,0.5,0.92],"tickSize":{"condition":{"test":"datum.value === 0.5","value":-5},"value":-10},"labels":false,"title":"2","titleAngle":0,"titleAlign":"right","titleBaseline":"alphabetic","titleX":0,"titleY":17.2,"titleFontSize":27}}}},
 {"data":{"name":"MoSe2_Powder"},"mark":{"type":"line","strokeOpacity":0},"encoding":{"x":{"field":"x","type":"quantitative"},"y":{"field":"y","type":"quantitative","axis":{"orient":"right","values":[0.08,0.5,0.92],"tickSize":{"condition":{"test":"datum.value === 0.5","value":-5},"value":-10},"labels":false,"title":null}}}},
 {"data":{"name":"labels"},"transform":[{"filter":"datum.m == 'MoSe2' && datum.s == 'Powder'"}],"mark":{"type":"text","align":"right","baseline":"middle","fontSize":24,"font":"Liberation Sans","color":"#000"},"encoding":{"x":{"field":"x","type":"quantitative"},"y":{"field":"y","type":"quantitative","axis":null},"text":{"field":"s"}}}
]},
{"width":535,"height":55.5,"resolve":{"axis":{"y":"independent"}},"layer":[
 {"data":{"name":"MoS2_Film"},"mark":{"type":"line","color":"#008000","strokeWidth":2.2},"encoding":{"x":{"field":"x","type":"quantitative","scale":{"domain":[150,450],"nice":false},"axis":{"orient":"top","values":[200,250,300,350,400],"tickSize":-8,"labels":false,"title":null}},"y":{"field":"y","type":"quantitative","scale":{"domain":[0,1],"nice":false},"axis":{"orient":"left","values":[0.08,0.5,0.92],"tickSize":{"condition":{"test":"datum.value === 0.5","value":-5},"value":-10},"labels":false,"title":"MoS","titleAngle":0,"titleAlign":"right","titleBaseline":"alphabetic","titleX":-23.3,"titleY":68.4,"titleFontSize":27}}}},
 {"data":{"name":"MoS2_Film"},"mark":{"type":"line","strokeOpacity":0},"encoding":{"x":{"field":"x","type":"quantitative"},"y":{"field":"y","type":"quantitative","axis":{"orient":"right","values":[0.08,0.5,0.92],"tickSize":{"condition":{"test":"datum.value === 0.5","value":-5},"value":-10},"labels":false,"title":null}}}},
 {"data":{"name":"labels"},"transform":[{"filter":"datum.m == 'MoS2' && datum.s == 'Film'"}],"mark":{"type":"text","align":"left","baseline":"middle","fontSize":24,"font":"Liberation Sans","color":"#000"},"encoding":{"x":{"field":"x","type":"quantitative"},"y":{"field":"y","type":"quantitative","axis":null},"text":{"field":"s"}}}
]},
{"width":535,"height":55.5,"resolve":{"axis":{"y":"independent"}},"layer":[
 {"data":{"name":"MoS2_Powder"},"mark":{"type":"line","color":"#008000","strokeWidth":2.2},"encoding":{"x":{"field":"x","type":"quantitative","scale":{"domain":[150,450],"nice":false},"axis":{"orient":"bottom","values":[200,250,300,350,400],"tickSize":{"condition":{"test":"datum.value % 100 === 0","value":-10},"value":-6},"labels":true,"labelFontSize":22,"labelPadding":16,"labelExpr":"datum.value % 100 === 0 ? datum.label : ''","title":"Wavenumber (cm⁻¹)","titleFontSize":35,"titlePadding":25}},"y":{"field":"y","type":"quantitative","scale":{"domain":[0,1],"nice":false},"axis":{"orient":"left","values":[0.08,0.5,0.92],"tickSize":{"condition":{"test":"datum.value === 0.5","value":-5},"value":-10},"labels":false,"title":"2","titleAngle":0,"titleAlign":"right","titleBaseline":"alphabetic","titleX":-6.7,"titleY":21.2,"titleFontSize":27}}}},
 {"data":{"name":"MoS2_Powder"},"mark":{"type":"line","strokeOpacity":0},"encoding":{"x":{"field":"x","type":"quantitative"},"y":{"field":"y","type":"quantitative","axis":{"orient":"right","values":[0.08,0.5,0.92],"tickSize":{"condition":{"test":"datum.value === 0.5","value":-5},"value":-10},"labels":false,"title":null}}}},
 {"data":{"name":"labels"},"transform":[{"filter":"datum.m == 'MoS2' && datum.s == 'Powder'"}],"mark":{"type":"text","align":"left","baseline":"middle","fontSize":24,"font":"Liberation Sans","color":"#000"},"encoding":{"x":{"field":"x","type":"quantitative"},"y":{"field":"y","type":"quantitative","axis":null},"text":{"field":"s"}}}
]}
]
}
